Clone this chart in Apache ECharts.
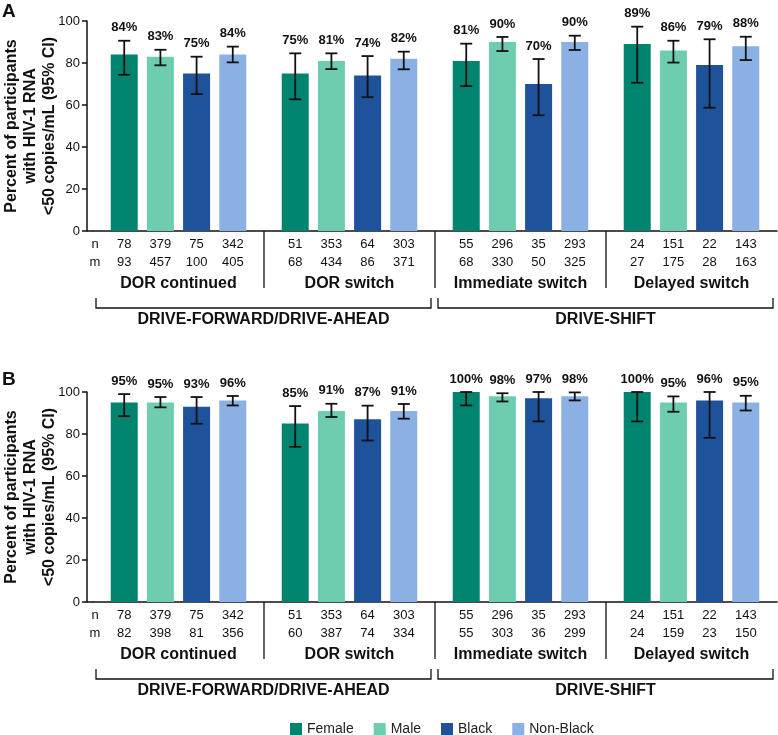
<!DOCTYPE html>
<html>
<head>
<meta charset="utf-8">
<script src="https://cdn.jsdelivr.net/npm/echarts@6/dist/echarts.min.js"></script>
</head>
<body style="margin:0">
<div id="main" style="width:778px;height:735px"></div>
<script>
// groups on the x axis, and the two studies bracketed below them
var groups = ['DOR continued', 'DOR switch', 'Immediate switch', 'Delayed switch'];
var studies = ['DRIVE-FORWARD/DRIVE-AHEAD', 'DRIVE-SHIFT'];
var studySpan = [[0, 1], [2, 3]];
var subgroups = ['Female', 'Male', 'Black', 'Non-Black'];
var colors = ['#00836f', '#6ecdb0', '#1e529b', '#8ab0e4'];

// rows are Female, Male, Black, Non-Black; columns follow groups
var pctA = [[84, 75, 81, 89], [83, 81, 90, 86], [75, 74, 70, 79], [84, 82, 90, 88]];
var loA  = [[74.4, 62.7, 69.0, 70.6], [78.9, 77.1, 85.7, 80.2], [65.2, 63.7, 55.1, 58.7], [80.3, 77.0, 86.2, 81.4]];
var hiA  = [[90.6, 84.6, 89.2, 97.3], [86.3, 84.6, 92.4, 90.6], [83.0, 83.3, 81.9, 91.3], [87.8, 85.4, 93.0, 92.5]];
var nA   = [[78, 51, 55, 24], [379, 353, 296, 151], [75, 64, 35, 22], [342, 303, 293, 143]];
var mA   = [[93, 68, 68, 27], [457, 434, 330, 175], [100, 86, 50, 28], [405, 371, 325, 163]];

var pctB = [[95, 85, 100, 100], [95, 91, 98, 95], [93, 87, 97, 96], [96, 91, 98, 95]];
var loB  = [[88.5, 73.9, 93.6, 86.0], [92.7, 88.1, 95.5, 90.6], [84.9, 76.9, 86.0, 78.2], [93.6, 87.3, 96.0, 91.2]];
var hiB  = [[99.0, 93.3, 100, 100], [97.6, 94.4, 99.4, 97.9], [97.6, 93.5, 100, 100], [98.1, 94.3, 99.8, 98.2]];
var nB   = [[78, 51, 55, 24], [379, 353, 296, 151], [75, 64, 35, 22], [342, 303, 293, 143]];
var mB   = [[82, 60, 55, 24], [398, 387, 303, 159], [81, 74, 36, 23], [356, 334, 299, 150]];

var yMin = 0, yMax = 100, yStep = 20;

var BAR_W = 27, BAR_GAP = 0.34, CAP = 12;
var INK = '#111';
var FONT = 'Liberation Sans, Arial, sans-serif';

var chartDom = document.getElementById('main');
var myChart = echarts.init(chartDom);

// outerBoundsMode none: keep the grid where it is, the axis name may run to the edge
var grids = [
    {left: 93, top: 21, width: 684, height: 210, outerBoundsMode: 'none', containLabel: false},
    {left: 93, top: 392, width: 684, height: 210, outerBoundsMode: 'none', containLabel: false}
];
var panels = [
    {pct: pctA, lo: loA, hi: hiA, n: nA, m: mA},
    {pct: pctB, lo: loB, hi: hiB, n: nB, m: mB}
];

var xAxes = [], yAxes = [], series = [];

panels.forEach(function (p, pi) {
    xAxes.push({
        type: 'category', gridIndex: pi, data: groups,
        axisLine: {lineStyle: {color: INK, width: 1.5}},
        axisTick: {show: false},
        axisLabel: {margin: 45, fontSize: 16, fontWeight: 'bold', color: INK, interval: 0}
    });
    yAxes.push({
        type: 'value', gridIndex: pi, min: yMin, max: yMax, interval: yStep, offset: 6,
        axisLine: {show: true, lineStyle: {color: INK, width: 1.5}},
        axisTick: {show: true, length: 5, lineStyle: {color: INK, width: 1.5}},
        axisLabel: {fontSize: 13, color: INK, margin: 7},
        splitLine: {show: false},
        name: 'Percent of participants\nwith HIV-1 RNA\n<50 copies/mL (95% CI)',
        nameLocation: 'middle', nameGap: 28, nameMoveOverlap: false,
        nameTextStyle: {fontSize: 16, fontWeight: 'bold', color: INK, lineHeight: 19}
    });

    // bars, with the n / m counts written under each one
    subgroups.forEach(function (name, s) {
        series.push({
            type: 'bar', name: name, xAxisIndex: pi, yAxisIndex: pi,
            data: p.pct[s], barWidth: BAR_W, barGap: (BAR_GAP * 100) + '%',
            itemStyle: {color: colors[s]},
            label: {
                show: true, position: 'bottom', distance: 4,
                fontSize: 13, lineHeight: 18.5, color: INK,
                formatter: function (params) {
                    return p.n[s][params.dataIndex] + '\n' + p.m[s][params.dataIndex];
                }
            }
        });
    });

    // 95% CI whiskers + percentage labels
    subgroups.forEach(function (name, s) {
        series.push({
            type: 'custom', name: 'ci-' + pi + '-' + s, xAxisIndex: pi, yAxisIndex: pi,
            silent: true, clip: false, z: 5,
            encode: {x: 0, y: [1, 2]},
            data: groups.map(function (g, i) { return [i, p.lo[s][i], p.hi[s][i], p.pct[s][i]]; }),
            renderItem: function (params, api) {
                var top = api.coord([api.value(0), api.value(2)]);
                var bot = api.coord([api.value(0), api.value(1)]);
                var x = top[0] + (s - 1.5) * BAR_W * (1 + BAR_GAP);
                var st = {stroke: INK, lineWidth: 1.8};
                return {type: 'group', children: [
                    {type: 'line', shape: {x1: x, y1: top[1], x2: x, y2: bot[1]}, style: st},
                    {type: 'line', shape: {x1: x - CAP / 2, y1: top[1], x2: x + CAP / 2, y2: top[1]}, style: st},
                    {type: 'line', shape: {x1: x - CAP / 2, y1: bot[1], x2: x + CAP / 2, y2: bot[1]}, style: st},
                    {type: 'text', x: x, y: top[1] - 13, style: {
                        text: api.value(3) + '%', fontSize: 13, fontWeight: 'bold', fontFamily: FONT,
                        fill: INK, align: 'center', verticalAlign: 'middle'}}
                ]};
            }
        });
    });

    // vertical separators between groups, under the axis
    series.push({
        type: 'custom', name: 'sep-' + pi, xAxisIndex: pi, yAxisIndex: pi,
        silent: true, clip: false,
        data: [[1, 0], [2, 0], [3, 0]],
        renderItem: function (params, api) {
            var c = api.coord([api.value(0), 0]);
            var x = c[0] - api.size([1, 0])[0] / 2;
            return {type: 'line', shape: {x1: x, y1: c[1], x2: x, y2: c[1] + 57},
                style: {stroke: INK, lineWidth: 1.3}};
        }
    });

    // study brackets
    series.push({
        type: 'custom', name: 'study-' + pi, xAxisIndex: pi, yAxisIndex: pi,
        silent: true, clip: false,
        data: studySpan.map(function (sp) { return [sp[0], sp[1]]; }),
        renderItem: function (params, api) {
            var bw = api.size([1, 0])[0];
            var c0 = api.coord([api.value(0), 0]);
            var c1 = api.coord([api.value(1), 0]);
            var x0 = c0[0] - bw / 2 + 3, x1 = c1[0] + bw / 2 - 4, y = c0[1];
            return {type: 'group', children: [
                {type: 'polyline', shape: {points: [[x0, y + 67], [x0, y + 77], [x1, y + 77], [x1, y + 67]]},
                    style: {stroke: INK, lineWidth: 1.3, fill: null}},
                {type: 'text', x: (x0 + x1) / 2, y: y + 89, style: {
                    text: studies[params.dataIndex], fontSize: 16, fontWeight: 'bold', fontFamily: FONT,
                    fill: INK, align: 'center', verticalAlign: 'middle'}}
            ]};
        }
    });
});

// panel letters, row headers and the short bit of x axis left of the first band
var graphics = [];
grids.forEach(function (g, pi) {
    var axisY = g.top + g.height;
    graphics.push(
        {type: 'text', left: 2, top: pi === 0 ? 2 : 370, style: {text: pi === 0 ? 'A' : 'B', fontSize: 19, fontWeight: 'bold', fontFamily: FONT, fill: INK}},
        {type: 'text', x: 95, y: axisY + 13, style: {text: 'n', fontSize: 13, fontFamily: FONT, fill: INK, align: 'center', verticalAlign: 'middle'}},
        {type: 'text', x: 95, y: axisY + 31.5, style: {text: 'm', fontSize: 13, fontFamily: FONT, fill: INK, align: 'center', verticalAlign: 'middle'}},
        {type: 'line', shape: {x1: g.left - 6, y1: axisY, x2: g.left, y2: axisY}, style: {stroke: INK, lineWidth: 1.5}}
    );
});

var option = {
    animation: false,
    textStyle: {fontFamily: FONT},
    grid: grids,
    xAxis: xAxes,
    yAxis: yAxes,
    legend: {
        data: subgroups, left: 290, top: 722, padding: 0, icon: 'rect',
        itemWidth: 12, itemHeight: 12, itemGap: 20,
        textStyle: {fontSize: 14, color: '#222'}
    },
    graphic: graphics,
    series: series
};

option && myChart.setOption(option);
</script>
</body>
</html>
